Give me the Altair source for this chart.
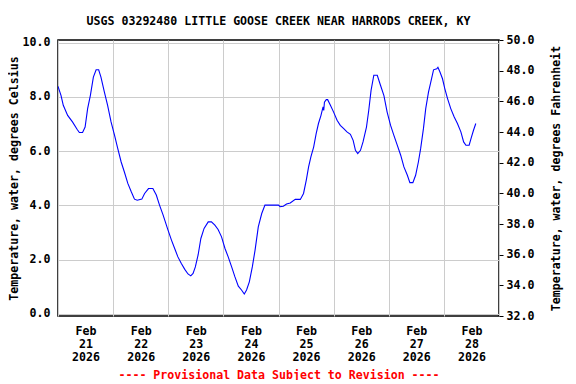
import altair as alt
import pandas as pd

# hours since 2026-02-21 00:00 and water temperature in degrees Celsius
hours = [0, 1.3, 2.3, 4.2, 6.3, 8.3, 9.3, 10.7, 11.8, 12.9, 14.1, 15.4, 16.6, 17.7, 18.7,
         20.2, 21.6, 23.1, 24.6, 26.0, 27.5, 28.9, 30.4, 31.9, 33.3, 34.5, 36.5, 37.7, 39.4,
         41.3, 42.8, 44.2, 45.7, 47.9, 49.4, 50.8, 52.2, 53.7, 55.2, 56.6, 57.8, 58.8, 59.8,
         61.0, 62.2, 63.6, 65.4, 66.8, 68.3, 69.7, 71.2, 72.7, 74.1, 75.6, 77.0, 78.5, 79.9,
         81.1, 82.1, 83.3, 84.6, 85.8, 87.2, 88.7, 90.1, 96.0, 96.7, 98.1, 99.5, 101.1, 103.3,
         105.5, 106.9, 108.1, 109.1, 110.1, 111.3, 112.4, 113.4, 114.5, 115.4, 115.7, 116.0,
         116.8, 117.4, 118.6, 120.0, 121.5, 122.9, 124.4, 125.8, 127.3, 128.5, 129.5, 130.5,
         131.7, 132.8, 134.3, 135.3, 136.3, 137.5, 139.0, 140.4, 141.9, 143.3, 144.8, 146.2,
         147.7, 149.2, 150.6, 152.1, 153.2, 154.5, 155.7, 156.9, 157.9, 159.1, 160.1, 161.3,
         162.3, 163.5, 164.9, 165.4, 166.3, 167.4, 168.4, 169.6, 171.0, 172.5, 173.9, 175.4,
         176.6, 177.6, 179.0, 180.0, 180.9, 181.9]
temp_c = [8.39, 8.06, 7.69, 7.32, 7.08, 6.81, 6.69, 6.69, 6.89, 7.57, 8.06, 8.73, 9.0, 9.0, 8.73,
          8.18, 7.69, 7.08, 6.59, 6.10, 5.60, 5.23, 4.81, 4.50, 4.23, 4.19, 4.23, 4.44, 4.62,
          4.62, 4.38, 4.01, 3.66, 3.09, 2.72, 2.41, 2.10, 1.86, 1.64, 1.47, 1.40, 1.49, 1.73,
          2.17, 2.78, 3.15, 3.39, 3.39, 3.27, 3.11, 2.84, 2.41, 2.10, 1.73, 1.37, 1.02, 0.88,
          0.73, 0.88, 1.18, 1.73, 2.35, 3.21, 3.70, 4.01, 4.01, 3.95, 3.97, 4.05, 4.09, 4.22,
          4.22, 4.44, 4.93, 5.42, 5.79, 6.15, 6.65, 7.02, 7.32, 7.63, 7.50, 7.81,
          7.90, 7.90, 7.69, 7.44, 7.14, 6.95, 6.83, 6.71, 6.62, 6.40, 6.03, 5.91,
          6.03, 6.34, 6.89, 7.51, 8.24, 8.80, 8.80, 8.43, 8.05, 7.44, 6.95, 6.59,
          6.22, 5.85, 5.42, 5.11, 4.84, 4.84, 5.11, 5.60, 6.10, 6.83, 7.57, 8.18,
          8.55, 9.00, 9.04, 9.09, 8.92, 8.67, 8.31, 7.94, 7.57, 7.26, 7.02, 6.71,
          6.34, 6.22, 6.22, 6.52, 6.77, 7.02]

grid_ticks = list(range(0, 193, 24))   # midnight of each day
label_ticks = list(range(12, 192, 24))  # noon of each day
c_ticks = [0, 2, 4, 6, 8, 10]
f_ticks = [32, 34, 36, 38, 40, 42, 44, 46, 48, 50]

df = pd.DataFrame({"h": hours, "c": temp_c})

FONT = "DejaVu Sans Mono"
FS = 11.6
XSCALE = alt.Scale(domain=[0, 192], nice=False, zero=False)

# line layer: its x axis (top, no labels) draws only the midnight grid lines
line = alt.Chart(df).mark_line(color="#0000ff", strokeWidth=1.1, clip=True).encode(
    x=alt.X(
        "h:Q", scale=XSCALE,
        axis=alt.Axis(orient="top", values=grid_ticks, grid=True, gridColor="#cccccc",
                      gridWidth=1, labels=False, ticks=False, domain=False, title=None),
    ),
    y=alt.Y(
        "c:Q",
        scale=alt.Scale(domain=[-0.08, 10.1], nice=False, zero=False),
        axis=alt.Axis(
            values=c_ticks, format=".1f", grid=True, gridColor="#cccccc", gridWidth=1,
            ticks=False, domain=False, labelPadding=8,
            title="Temperature, water, degrees Celsius",
            titleX=-43.5, titleBaseline="middle",
        ),
    ),
)

# invisible layer carrying the Fahrenheit axis and the noon date labels
fline = alt.Chart(df).transform_calculate(f="datum.c * 1.8 + 32").mark_line(opacity=0).encode(
    x=alt.X(
        "h:Q", scale=XSCALE,
        axis=alt.Axis(
            orient="bottom", values=label_ticks,
            labelExpr="['Feb', '' + (21 + floor(datum.value / 24)), '2026']",
            grid=False, ticks=False, domain=False, labelPadding=9, labelLineHeight=13,
            labelBaseline="top", labelOverlap=False, labelFlush=False,
            title="---- Provisional Data Subject to Revision ----",
            titleColor="#ff0000", titleY=59, titleBaseline="middle",
        ),
    ),
    y=alt.Y(
        "f:Q",
        scale=alt.Scale(domain=[32, 50], nice=False, zero=False),
        axis=alt.Axis(
            orient="right", values=f_ticks, format=".1f", grid=False,
            ticks=True, tickSize=4, tickColor="black", domain=False, labelPadding=3,
            title="Temperature, water, degrees Fahrenheit",
            titleAngle=270, titleX=57.5, titleBaseline="middle",
        ),
    ),
)

chart = (
    alt.layer(line, fline)
    .resolve_scale(y="independent")
    .resolve_axis(x="independent")
    .properties(
        width=441,
        height=276,
        autosize=alt.AutoSizeParams(type="none"),
        padding={"left": 50, "top": 32, "right": 69, "bottom": 64},
        title=alt.TitleParams(
            "USGS 03292480 LITTLE GOOSE CREEK NEAR HARRODS CREEK, KY",
            font=FONT, fontSize=FS, fontWeight="bold", color="black",
            anchor="middle", offset=6,
        ),
    )
    .configure_view(stroke="black", strokeWidth=1.5)
    .configure_axis(
        labelFont=FONT, labelFontSize=FS, labelFontWeight="bold", labelColor="black",
        titleFont=FONT, titleFontSize=FS, titleFontWeight="bold", titleColor="black",
    )
)

chart.save("out.html", embed_options={"renderer": "svg", "actions": False})
